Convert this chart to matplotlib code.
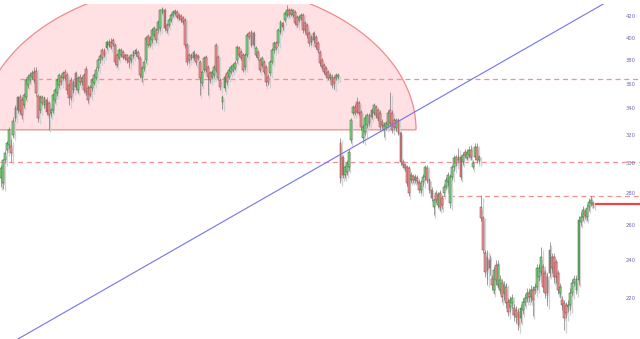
import numpy as np
import matplotlib
matplotlib.use("Agg")
import matplotlib.pyplot as plt
import matplotlib.transforms as mtransforms

# OHLC, one bar per entry
opens = [
    290, 287, 302, 309, 313, 312, 320, 333, 339, 349,
    347, 343, 349, 359, 363, 366, 370, 371, 350, 339,
    349, 343, 347, 344.6, 336.8, 339, 347, 352.6, 359, 365.8,
    365, 370, 367.5, 359, 363, 355, 369, 355, 365.8, 361.6,
    367.5, 372.6, 356.7, 357.5, 356.7, 360.8, 365, 373.5, 380.4, 389.3,
    389.3, 391.1, 393.8, 396.5, 398.3, 393.8, 384.8, 382.2, 384.8, 387.5,
    384.8, 384.8, 382.2, 380.4, 383.9, 385.7, 387.5, 382.2, 365.8, 373.5,
    380.4, 402, 393.8, 398.3, 402.9, 407.6, 407.6, 409.5, 424.8, 426.8,
    412.3, 412.3, 417.1, 421.9, 423.9, 424.8, 421.9, 421, 419, 417.1,
    393.8, 384.8, 382.2, 382.2, 384.8, 383.9, 378.7, 360.8, 371.8, 383,
    374.4, 369.2, 365.8, 367.5, 393.8, 383, 363.3, 345.4, 356.7, 369.2,
    365.8, 370.1, 371.8, 373.5, 380.4, 391.1, 387.5, 384.8, 374.4, 384.8,
    404.8, 405.7, 404.8, 384.8, 387.5, 380.4, 376.1, 378.7, 374.4, 365.8,
    369.2, 378.7, 389.3, 395.6, 395.6, 405.7, 414.2, 417.1, 421.9, 426.8,
    426.8, 421.9, 424.8, 420, 417.1, 419, 421.9, 414.2, 412.3, 404.8,
    396.5, 404.8, 401.1, 395.6, 387.5, 380.4, 376.1, 373.5, 370.1, 365,
    365.8, 365, 365, 365.8, 314.4, 304.4, 292, 294, 297.4, 316.5,
    336.8, 341.5, 345.4, 344.6, 337.6, 318, 322.4, 327.6, 335.2, 333.7,
    336.8, 341.5, 339.1, 336.8, 329.9, 323.9, 326.1, 327.6, 339.1, 336.8,
    331.4, 325.4, 331.4, 321.7, 300.9, 298.8, 297.4, 296.8, 288.7, 291.3,
    288.7, 290, 287.4, 282.1, 287.4, 290.7, 296.8, 288.7, 282.1, 271.3,
    280.2, 272.5, 280.2, 277, 280.2, 284.1, 287.4, 273.8, 290.7, 297.4,
    304.4, 302.3, 304.4, 300.9, 307.9, 303.7, 305.8, 309.3, 297.4, 304.4,
    311.5, 302.3, 271.3, 264.5, 244, 241.2, 240.1, 229.8, 224.1, 237.4,
    226.7, 224.1, 227.7, 222.6, 225.6, 218, 215.5, 217.5, 215, 214,
    213.1, 210.1, 214, 218, 220, 222.6, 220.5, 224.1, 224.1, 225.6,
    230.9, 233.6, 236.3, 233.1, 230.9, 233.1, 241.8, 241.8, 239, 233.1,
    222.6, 219, 217.5, 216.5, 215.5, 216.5, 222.6, 227.7, 224.1, 229.3,
    262.1, 265.1, 268.2, 265.1, 271.3, 273.8, 273.8,
]
highs = [
    299, 303, 309, 316, 326, 317, 334, 343, 350, 352,
    349, 353, 365, 368, 370, 372, 374, 374, 352, 351,
    351, 350, 349, 346, 341, 353, 357, 365, 369, 368,
    371, 373, 369, 361, 366, 363, 371, 367, 368, 367,
    369, 375, 359, 359, 365, 369, 374, 382, 386, 391,
    391, 398, 399, 400, 400, 396, 387, 391, 391, 389,
    386, 386, 384, 386, 389, 391, 389, 384, 375, 380,
    402, 404, 402, 409, 411, 409, 417, 428, 430, 429,
    414, 419, 424, 427, 428, 427, 424, 423, 421, 419,
    396, 387, 387, 389, 387, 386, 380, 372, 384, 385,
    376, 371, 372, 376, 396, 385, 365, 351, 368, 371,
    374, 376, 378, 380, 394, 393, 389, 387, 387, 405,
    407, 408, 407, 393, 389, 382, 384, 380, 376, 368,
    380, 391, 397, 397, 409, 417, 416, 426, 431.7, 429,
    429, 428, 427, 422, 422, 424, 424, 416, 414, 407,
    403, 407, 403, 397, 389, 382, 378, 375, 372, 369,
    368, 367, 369, 369, 318, 306, 299, 302, 310, 333,
    343, 344, 349.4, 346, 339, 328, 335, 337, 337, 341,
    345, 343, 341, 339, 332, 330, 331, 339, 353.4, 339,
    333, 333, 333, 323, 303, 300, 299, 298, 294, 293,
    293, 292, 289, 289, 293, 299, 299, 290, 284, 277,
    282, 281, 282, 279, 286, 291, 294, 293, 299, 306,
    306, 310.8, 306, 308, 310, 310, 312, 313, 302, 314,
    314, 306, 278.9, 266, 246, 246, 243, 232, 237, 240,
    240, 232, 230, 229, 228, 220, 221, 222, 217, 216,
    215, 217, 220, 222, 225, 225, 227, 226, 228, 238,
    238, 247.4, 238, 235, 233, 250.3, 244, 244, 241, 235,
    228, 221, 219, 218, 219, 225, 230, 232, 232, 266,
    268, 272, 270, 273, 277, 278.3, 275,
]
lows = [
    284, 283, 300, 307, 311, 301, 318, 331, 337, 336,
    332, 341, 347, 357, 361, 364, 361, 350, 330, 337,
    343, 341, 335, 323.9, 334, 337, 345, 350, 357, 359,
    363, 363, 352, 343, 347, 353, 355, 353, 359, 359,
    353, 351, 345, 349, 354, 359, 363, 371, 378, 380,
    383, 389, 392, 390, 393, 376, 374, 380, 383, 381,
    380, 378, 373.5, 378, 382, 384, 381, 365, 361.6, 371,
    378, 392, 392, 396, 401, 396, 405, 407, 423, 407,
    405, 410, 415, 420, 422, 418, 417, 415, 413, 391,
    376, 378, 380, 380, 376, 380, 351, 358, 370, 370,
    351, 361, 364, 365, 370, 363, 355, 339.9, 354, 359,
    364, 368, 370, 372, 378, 383, 380, 370, 372, 383,
    399, 392, 392, 383, 380, 370, 374, 368, 358, 359,
    367, 377, 387, 389, 393, 404, 408, 415, 420, 420,
    421, 420, 412, 410, 415, 417, 405, 405, 400, 393,
    394, 396, 390, 387, 375, 372, 368, 365, 363, 363,
    357, 356, 363, 364, 286.7, 290, 290, 292, 295, 314,
    335, 335, 336, 335, 324, 314.4, 320, 325, 327, 332,
    335, 333, 331, 324, 325, 318.7, 324, 325, 327, 322,
    324, 323, 320, 299, 297, 295, 285, 278, 287, 287,
    287, 286, 280, 280, 285, 289, 287, 280, 275, 266.3,
    274, 271, 269, 270, 278, 282, 285, 271, 289, 295,
    298, 300, 289, 299, 304, 302, 304, 302, 296, 302,
    300, 300, 263, 244, 231, 227, 232, 224, 222, 227,
    225, 222, 218, 219, 215, 211, 213, 215, 209, 208,
    204.4, 208, 212, 216, 218, 218, 218, 211, 222, 224,
    229, 232, 223, 220, 216, 231, 233, 228, 228, 222,
    220, 214, 204.4, 210, 213, 214, 221, 226, 222, 227,
    260, 263, 264, 263, 269, 272, 271,
]
closes = [
    297, 302, 307, 314, 324, 307, 331, 341, 349, 338,
    335, 351, 363, 366, 367.5, 369, 363, 352.6, 333, 349,
    345, 348.6, 337.6, 335, 339, 351, 355, 363.3, 367.5, 361.6,
    369, 365, 355, 348.6, 349.4, 361.6, 357.5, 365, 361.6, 365,
    355, 353.4, 347, 351, 363.3, 367.5, 371.8, 380.4, 383.9, 382.2,
    384.8, 396.5, 396.5, 392, 394.7, 378.7, 376.1, 389.3, 389.3, 383,
    382.2, 380.4, 378.7, 384.8, 387.5, 389.3, 383, 367.5, 373.5, 378.7,
    400.2, 393.8, 400.2, 407.6, 409.5, 398.3, 415.2, 426.8, 427.8, 409.5,
    407.6, 417.1, 421.9, 424.8, 425.8, 420, 419, 417.1, 415.2, 393.8,
    378.7, 380.4, 384.8, 387.5, 378.7, 382.2, 365, 370.1, 382.2, 371.8,
    365.8, 363.3, 370.1, 374.4, 371.8, 365, 357.5, 349.4, 365.8, 361.6,
    371.8, 374.4, 376.1, 377.8, 392, 384.8, 382.2, 371.8, 384.8, 402.9,
    401.1, 393.8, 393.8, 391.1, 382.2, 371.8, 382.2, 370.1, 361.6, 361.6,
    378.7, 389.3, 395.6, 391.1, 407.6, 415.2, 410.4, 423.9, 426.8, 421.9,
    422.9, 426.8, 414.2, 412.3, 420, 421.9, 407.6, 407.6, 402.9, 395.6,
    401.1, 398.3, 392, 389.3, 377.8, 374.4, 370.1, 367.5, 365, 367.5,
    359.2, 360.8, 367.5, 367.5, 290, 292, 297.4, 300.2, 307.9, 331.4,
    341.5, 336.8, 337.6, 336.8, 326.1, 326.1, 332.9, 335.2, 329.1, 339.1,
    343, 335.2, 332.9, 326.1, 327.6, 327.6, 329.1, 336.8, 329.1, 323.9,
    326.1, 331.4, 321.7, 300.9, 298.8, 296.8, 286.7, 280.2, 292, 288.7,
    290.7, 288, 282.1, 286.7, 290.7, 297.4, 288.7, 282.1, 277, 275.7,
    275.7, 278.9, 271.3, 272.5, 284.1, 288.7, 292, 290.7, 297.4, 303.7,
    300.2, 304.4, 290.7, 305.8, 305.8, 307.9, 309.3, 304.4, 300.2, 311.5,
    302.3, 304.4, 264.5, 245.7, 233.6, 234.7, 235.8, 226.7, 234.7, 229.3,
    237.4, 229.3, 220.5, 226.7, 217.5, 213.1, 219, 220, 211.6, 210.6,
    206.8, 215, 218, 220, 222.6, 220.5, 224.1, 219, 225.6, 235.8,
    235.8, 241.8, 225.6, 222.6, 222.6, 245.7, 235.8, 230.9, 230.9, 224.1,
    225.6, 216.5, 210.1, 212.6, 216.5, 222.6, 227.7, 229.8, 229.8, 263.3,
    265.1, 269.4, 266.3, 270.7, 274.4, 275.7, 272.5,
]

price_ticks = [420, 400, 380, 360, 340, 320, 300, 280, 260, 240, 220]

# drawn levels / trend / zone
dash_levels = [364, 301, 278.5]
dash_starts = [9.2, -0.5, 208]
last_level = 273.2
trend_x = [8.2, 291.8]
trend_y = [200.3, 433.7]
zone_center = 95.4
zone_half_width = 105.1
zone_base = 324
zone_top = 454

x_left, x_right = -0.483, 308.7
y_low, y_high = 200.3, 432.7

fig = plt.figure(figsize=(6.4, 3.39), dpi=100)
ax = fig.add_axes([0, 0, 1, 335 / 339])
ax.set_yscale("log")
ax.set_xlim(x_left, x_right)
ax.set_ylim(y_low, y_high)
for s in ax.spines.values():
    s.set_visible(False)
ax.set_xticks([])
ax.set_yticks([])
ax.minorticks_off()

# pink half-ellipse zone (straight in screen space, so interpolate in log)
t = np.linspace(0, np.pi, 200)
zx = zone_center + zone_half_width * np.cos(t)
zy = np.exp(np.log(zone_base) + (np.log(zone_top) - np.log(zone_base)) * np.sin(t))
ax.fill(zx, zy, facecolor="#ffe0e3", edgecolor="#f28a8a", linewidth=0.9, zorder=1)

# trendline
ax.plot(trend_x, trend_y, color="#7373ee", linewidth=0.8, zorder=4)

# dashed levels
for lvl, xs in zip(dash_levels, dash_starts):
    ax.hlines(lvl, xs, x_right, colors="#f49090", linestyles=(0, (4, 3)),
              linewidth=0.9, zorder=2)
ax.hlines(last_level, len(closes), x_right, colors="#e84848", linewidth=1.6, zorder=5)

# candles
idx = np.arange(len(closes))
o = np.array(opens)
c = np.array(closes)
h = np.array(highs)
l = np.array(lows)
up = c >= o
body_lo = np.minimum(o, c)
body_hi = np.maximum(o, c)
body_h = np.maximum(body_hi - body_lo, 0.25)

shadow = mtransforms.offset_copy(ax.transData, fig=fig, x=1.5, y=-2.5, units="dots")
ax.vlines(idx, l, h, colors="#d0d0d0", linewidth=0.9, transform=shadow, zorder=2)
ax.bar(idx, body_h, bottom=body_lo, width=0.9, color="#d6d6d6", linewidth=0,
       transform=shadow, zorder=2)

ax.vlines(idx, l, h, colors="#6a6a6a", linewidth=0.45, zorder=3)
ax.bar(idx[up], body_h[up], bottom=body_lo[up], width=0.9, color="#80dc80",
       edgecolor="#3c5a3c", linewidth=0.35, zorder=3)
ax.bar(idx[~up], body_h[~up], bottom=body_lo[~up], width=0.9, color="#ec9898",
       edgecolor="#8a4040", linewidth=0.35, zorder=3)

# price labels on the right
lab_tr = mtransforms.blended_transform_factory(ax.transAxes, ax.transData)
for p in price_ticks:
    ax.text(0.985, p, str(p), transform=lab_tr, ha="center", va="center",
            fontsize=3.8, color="#6a6ab8", zorder=6)

fig.savefig("out.png", dpi=100, facecolor="white")
